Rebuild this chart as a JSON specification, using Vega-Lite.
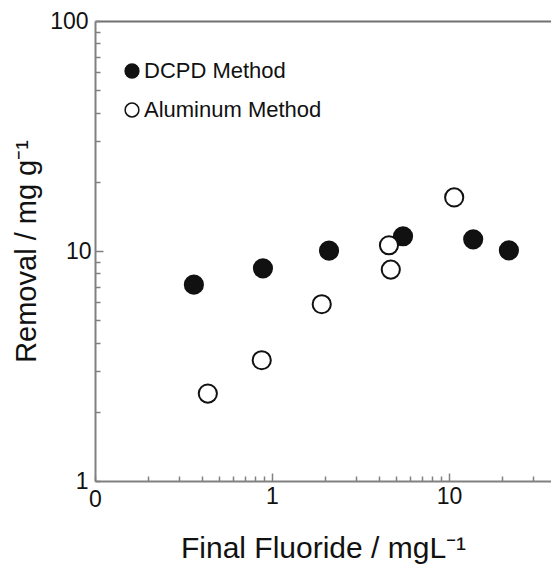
{
  "$schema": "https://vega.github.io/schema/vega-lite/v6.json",
  "width": 456,
  "height": 460,
  "autosize": {"type": "none"},
  "padding": {"left": 95, "top": 21, "right": 0, "bottom": 83},
  "background": "white",
  "config": {
    "view": {"stroke": null},
    "font": "Liberation Sans",
    "axis": {"grid": false, "labelColor": "#111111", "titleColor": "#111111", "titleFontWeight": "normal", "domainColor": "#808080", "domainWidth": 2, "tickColor": "#808080", "tickWidth": 1.5}
  },
  "data": {
    "values": [
      {"method": "DCPD Method", "x": 0.362, "y": 7.14},
      {"method": "DCPD Method", "x": 0.889, "y": 8.41},
      {"method": "DCPD Method", "x": 2.10, "y": 10.04},
      {"method": "DCPD Method", "x": 5.50, "y": 11.59},
      {"method": "DCPD Method", "x": 13.7, "y": 11.24},
      {"method": "DCPD Method", "x": 21.8, "y": 10.07},
      {"method": "Aluminum Method", "x": 0.434, "y": 2.40},
      {"method": "Aluminum Method", "x": 0.875, "y": 3.35},
      {"method": "Aluminum Method", "x": 1.91, "y": 5.87},
      {"method": "Aluminum Method", "x": 4.58, "y": 10.59},
      {"method": "Aluminum Method", "x": 4.69, "y": 8.30},
      {"method": "Aluminum Method", "x": 10.7, "y": 17.1}
    ]
  },
  "layer": [
    {
      "mark": {"type": "point", "shape": "circle", "filled": true, "stroke": "#111111", "strokeWidth": 2, "size": 330, "opacity": 1},
      "encoding": {
        "x": {
          "field": "x", "type": "quantitative",
          "scale": {"type": "log", "domain": [0.1, 37.7]},
          "axis": {
            "orient": "bottom",
            "values": [0.1, 0.2, 0.3, 0.4, 0.5, 0.6, 0.7, 0.8, 0.9, 1, 2, 3, 4, 5, 6, 7, 8, 9, 10, 20, 30],
            "labelExpr": "datum.value == 0.1 ? '0' : datum.value == 1 ? '1' : datum.value == 10 ? '10' : ''",
            "labelOverlap": false, "labelFlush": false,
            "tickSize": {"condition": {"test": "datum.value == 1 || datum.value == 10", "value": -8}, "value": -5},
            "labelPadding": 12, "labelFontSize": 23,
            "title": "Final Fluoride / mgL⁻¹", "titleFontSize": 30,
            "titleBaseline": "alphabetic", "titleY": 76
          }
        },
        "y": {
          "field": "y", "type": "quantitative",
          "scale": {"type": "log", "domain": [1, 100]},
          "axis": {
            "values": [1, 2, 3, 4, 5, 6, 7, 8, 9, 10, 20, 30, 40, 50, 60, 70, 80, 90, 100],
            "labelExpr": "datum.value == 1 ? '1' : datum.value == 10 ? '10' : datum.value == 100 ? '100' : ''",
            "labelOverlap": false, "labelFlush": false,
            "tickSize": {"condition": {"test": "datum.value == 10", "value": -8}, "value": -5},
            "labelPadding": 12, "labelFontSize": 23,
            "title": "Removal / mg g⁻¹", "titleFontSize": 29,
            "titleBaseline": "alphabetic", "titleX": -60, "titleY": 230
          }
        },
        "fill": {
          "field": "method", "type": "nominal",
          "scale": {"domain": ["DCPD Method", "Aluminum Method"], "range": ["#111111", "#ffffff"]},
          "legend": {
            "title": null, "orient": "none", "legendX": 26, "legendY": 39,
            "padding": 0, "symbolType": "circle", "symbolSize": 190,
            "symbolStrokeColor": "#111111", "symbolStrokeWidth": 1.5,
            "labelFontSize": 22, "labelColor": "#111111", "labelOffset": 1, "labelLimit": 400, "rowPadding": 17
          }
        }
      }
    },
    {
      "mark": {"type": "point", "opacity": 0},
      "encoding": {
        "x": {
          "field": "x", "type": "quantitative",
          "scale": {"type": "log", "domain": [0.1, 37.7]},
          "axis": {"orient": "top", "labels": false, "ticks": false, "title": null, "domainColor": "#707070", "domainWidth": 2}
        },
        "y": {
          "field": "y", "type": "quantitative",
          "scale": {"type": "log", "domain": [1, 100]},
          "axis": {
            "values": [1, 2, 3, 4, 5, 6, 7, 8, 9, 10, 20, 30, 40, 50, 60, 70, 80, 90, 100],
            "labelExpr": "datum.value == 1 ? '1' : datum.value == 10 ? '10' : datum.value == 100 ? '100' : ''",
            "labelOverlap": false, "labelFlush": false,
            "tickSize": {"condition": {"test": "datum.value == 10", "value": -8}, "value": -5},
            "labelPadding": 12, "labelFontSize": 23,
            "title": "Removal / mg g⁻¹", "titleFontSize": 29,
            "titleBaseline": "alphabetic", "titleX": -60, "titleY": 230
          }
        }
      }
    }
  ],
  "resolve": {"axis": {"x": "independent"}}
}
